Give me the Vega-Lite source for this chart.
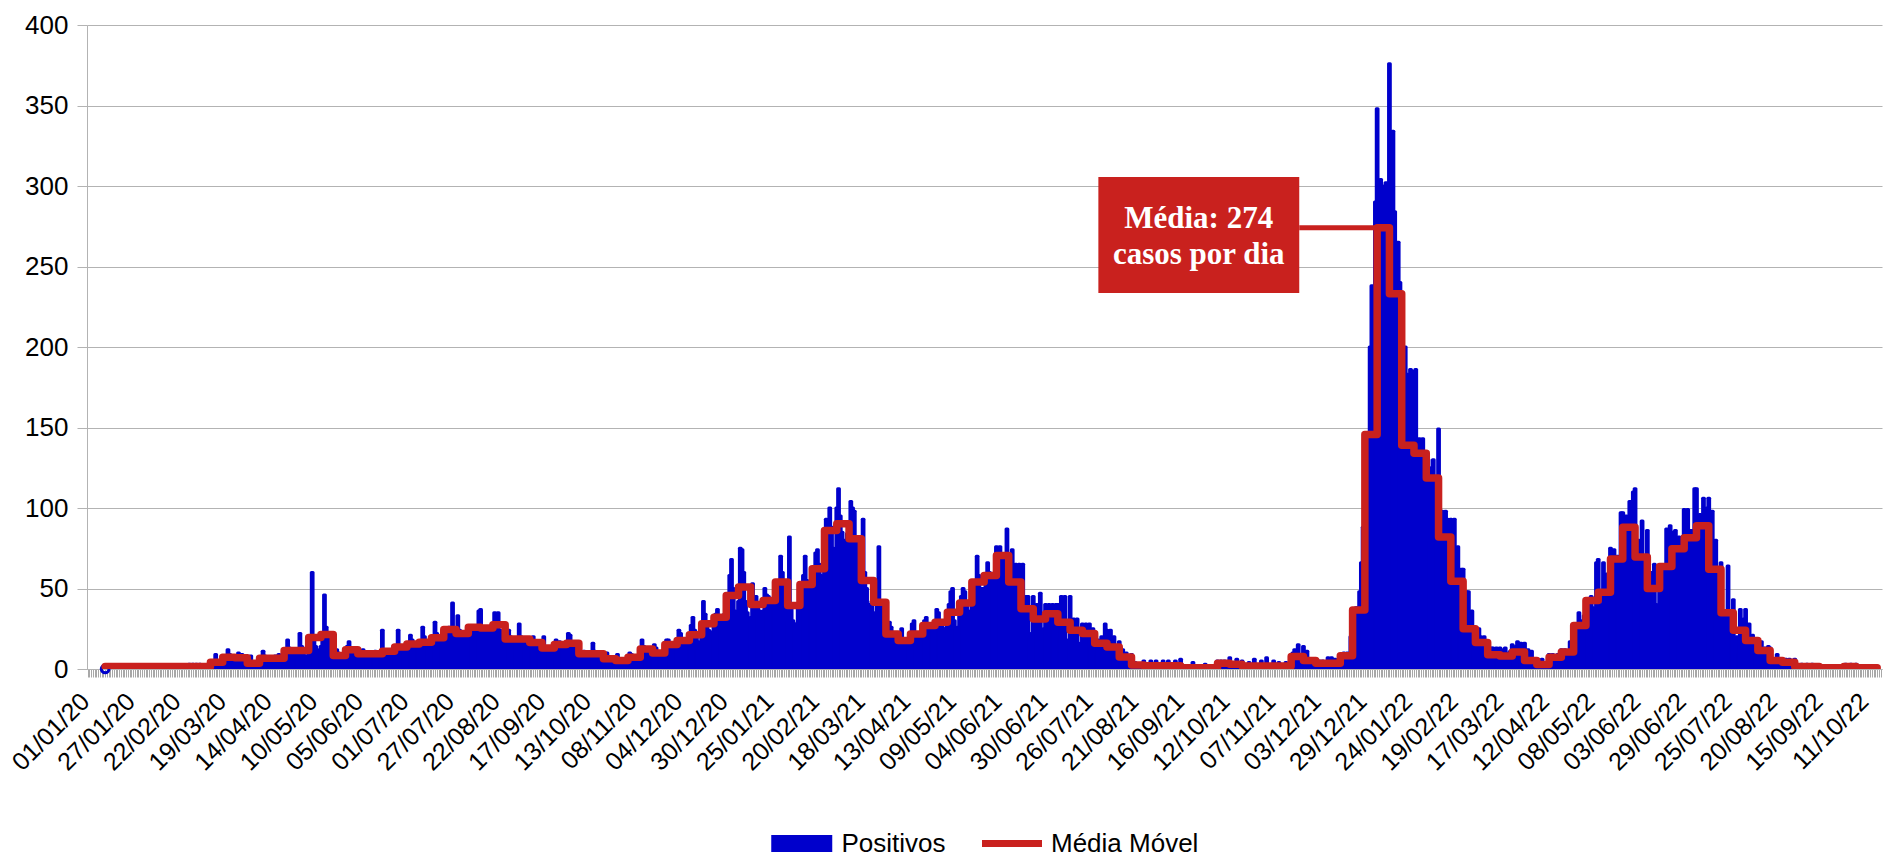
{
"$schema": "https://vega.github.io/schema/vega-lite/v6.json",
"width": 1795,
"height": 644,
"autosize": {"type": "none"},
"padding": {"left": 87, "top": 25, "right": 1, "bottom": 190},
"background": "white",
"config": {"view": {"stroke": null}, "font": "Liberation Sans"},
"datasets": {
"positivos": [
{"dia":7,"pos":0},{"dia":8,"pos":0},{"dia":9,"pos":0},{"dia":10,"pos":0},
{"dia":11,"pos":0},{"dia":12,"pos":0},{"dia":13,"pos":0},{"dia":14,"pos":0},{"dia":15,"pos":0},{"dia":16,"pos":0},{"dia":17,"pos":0},
{"dia":18,"pos":0},{"dia":19,"pos":0},{"dia":20,"pos":0},{"dia":21,"pos":0},{"dia":22,"pos":0},{"dia":23,"pos":0},{"dia":24,"pos":0},
{"dia":25,"pos":0},{"dia":26,"pos":0},{"dia":27,"pos":0},{"dia":28,"pos":0},{"dia":29,"pos":0},{"dia":30,"pos":0},{"dia":31,"pos":0},
{"dia":32,"pos":0},{"dia":33,"pos":0},{"dia":34,"pos":0},{"dia":35,"pos":0},{"dia":36,"pos":0},{"dia":37,"pos":0},{"dia":38,"pos":0},
{"dia":39,"pos":0},{"dia":40,"pos":0},{"dia":41,"pos":0},{"dia":42,"pos":0},{"dia":43,"pos":0},{"dia":44,"pos":0},{"dia":45,"pos":0},
{"dia":46,"pos":0},{"dia":47,"pos":0},{"dia":48,"pos":0},{"dia":49,"pos":0},{"dia":50,"pos":0},{"dia":51,"pos":0},{"dia":52,"pos":0},
{"dia":53,"pos":0},{"dia":54,"pos":0},{"dia":55,"pos":3},{"dia":56,"pos":2},{"dia":57,"pos":3},{"dia":58,"pos":2},{"dia":59,"pos":3},
{"dia":60,"pos":2},{"dia":61,"pos":3},{"dia":62,"pos":1},{"dia":63,"pos":2},{"dia":64,"pos":1},{"dia":65,"pos":2},{"dia":66,"pos":2},
{"dia":67,"pos":2},{"dia":68,"pos":3},{"dia":69,"pos":5},{"dia":70,"pos":9},{"dia":71,"pos":5},{"dia":72,"pos":3},{"dia":73,"pos":2},
{"dia":74,"pos":6},{"dia":75,"pos":7},{"dia":76,"pos":8},{"dia":77,"pos":12},{"dia":78,"pos":9},{"dia":79,"pos":6},{"dia":80,"pos":5},
{"dia":81,"pos":5},{"dia":82,"pos":7},{"dia":83,"pos":10},{"dia":84,"pos":8},{"dia":85,"pos":9},{"dia":86,"pos":6},{"dia":87,"pos":4},
{"dia":88,"pos":2},{"dia":89,"pos":3},{"dia":90,"pos":8},{"dia":91,"pos":4},{"dia":92,"pos":3},{"dia":93,"pos":2},{"dia":94,"pos":2},
{"dia":95,"pos":4},{"dia":96,"pos":6},{"dia":97,"pos":11},{"dia":98,"pos":8},{"dia":99,"pos":7},{"dia":100,"pos":6},{"dia":101,"pos":5},
{"dia":102,"pos":5},{"dia":103,"pos":6},{"dia":104,"pos":8},{"dia":105,"pos":7},{"dia":106,"pos":9},{"dia":107,"pos":7},{"dia":108,"pos":5},
{"dia":109,"pos":7},{"dia":110,"pos":10},{"dia":111,"pos":18},{"dia":112,"pos":13},{"dia":113,"pos":12},{"dia":114,"pos":11},{"dia":115,"pos":9},
{"dia":116,"pos":8},{"dia":117,"pos":12},{"dia":118,"pos":22},{"dia":119,"pos":14},{"dia":120,"pos":10},{"dia":121,"pos":8},{"dia":122,"pos":7},
{"dia":123,"pos":9},{"dia":124,"pos":12},{"dia":125,"pos":60},{"dia":126,"pos":20},{"dia":127,"pos":14},{"dia":128,"pos":12},{"dia":129,"pos":10},
{"dia":130,"pos":14},{"dia":131,"pos":18},{"dia":132,"pos":46},{"dia":133,"pos":26},{"dia":134,"pos":20},{"dia":135,"pos":14},{"dia":136,"pos":12},
{"dia":137,"pos":6},{"dia":138,"pos":8},{"dia":139,"pos":12},{"dia":140,"pos":10},{"dia":141,"pos":9},{"dia":142,"pos":8},{"dia":143,"pos":6},
{"dia":144,"pos":9},{"dia":145,"pos":14},{"dia":146,"pos":17},{"dia":147,"pos":12},{"dia":148,"pos":11},{"dia":149,"pos":10},{"dia":150,"pos":11},
{"dia":151,"pos":8},{"dia":152,"pos":10},{"dia":153,"pos":11},{"dia":154,"pos":12},{"dia":155,"pos":9},{"dia":156,"pos":8},{"dia":157,"pos":8},
{"dia":158,"pos":8},{"dia":159,"pos":9},{"dia":160,"pos":10},{"dia":161,"pos":11},{"dia":162,"pos":10},{"dia":163,"pos":9},{"dia":164,"pos":9},
{"dia":165,"pos":24},{"dia":166,"pos":10},{"dia":167,"pos":9},{"dia":168,"pos":8},{"dia":169,"pos":9},{"dia":170,"pos":9},{"dia":171,"pos":8},
{"dia":172,"pos":10},{"dia":173,"pos":12},{"dia":174,"pos":24},{"dia":175,"pos":14},{"dia":176,"pos":13},{"dia":177,"pos":11},{"dia":178,"pos":11},
{"dia":179,"pos":12},{"dia":180,"pos":16},{"dia":181,"pos":21},{"dia":182,"pos":18},{"dia":183,"pos":15},{"dia":184,"pos":14},{"dia":185,"pos":13},
{"dia":186,"pos":13},{"dia":187,"pos":16},{"dia":188,"pos":26},{"dia":189,"pos":20},{"dia":190,"pos":16},{"dia":191,"pos":15},{"dia":192,"pos":13},
{"dia":193,"pos":15},{"dia":194,"pos":18},{"dia":195,"pos":29},{"dia":196,"pos":22},{"dia":197,"pos":19},{"dia":198,"pos":17},{"dia":199,"pos":16},
{"dia":200,"pos":18},{"dia":201,"pos":21},{"dia":202,"pos":24},{"dia":203,"pos":26},{"dia":204,"pos":23},{"dia":205,"pos":41},{"dia":206,"pos":19},
{"dia":207,"pos":20},{"dia":208,"pos":33},{"dia":209,"pos":24},{"dia":210,"pos":22},{"dia":211,"pos":20},{"dia":212,"pos":19},{"dia":213,"pos":16},
{"dia":214,"pos":20},{"dia":215,"pos":24},{"dia":216,"pos":26},{"dia":217,"pos":27},{"dia":218,"pos":25},{"dia":219,"pos":24},{"dia":220,"pos":36},
{"dia":221,"pos":37},{"dia":222,"pos":26},{"dia":223,"pos":25},{"dia":224,"pos":24},{"dia":225,"pos":22},{"dia":226,"pos":23},{"dia":227,"pos":22},
{"dia":228,"pos":26},{"dia":229,"pos":35},{"dia":230,"pos":34},{"dia":231,"pos":35},{"dia":232,"pos":24},{"dia":233,"pos":16},{"dia":234,"pos":22},
{"dia":235,"pos":17},{"dia":236,"pos":18},{"dia":237,"pos":24},{"dia":238,"pos":20},{"dia":239,"pos":18},{"dia":240,"pos":17},{"dia":241,"pos":16},
{"dia":242,"pos":16},{"dia":243,"pos":28},{"dia":244,"pos":20},{"dia":245,"pos":18},{"dia":246,"pos":17},{"dia":247,"pos":17},{"dia":248,"pos":14},
{"dia":249,"pos":14},{"dia":250,"pos":18},{"dia":251,"pos":20},{"dia":252,"pos":17},{"dia":253,"pos":16},{"dia":254,"pos":15},{"dia":255,"pos":15},
{"dia":256,"pos":13},{"dia":257,"pos":20},{"dia":258,"pos":14},{"dia":259,"pos":12},{"dia":260,"pos":11},{"dia":261,"pos":10},{"dia":262,"pos":11},
{"dia":263,"pos":14},{"dia":264,"pos":18},{"dia":265,"pos":16},{"dia":266,"pos":17},{"dia":267,"pos":15},{"dia":268,"pos":13},{"dia":269,"pos":13},
{"dia":270,"pos":14},{"dia":271,"pos":22},{"dia":272,"pos":21},{"dia":273,"pos":16},{"dia":274,"pos":14},{"dia":275,"pos":13},{"dia":276,"pos":12},
{"dia":277,"pos":10},{"dia":278,"pos":9},{"dia":279,"pos":10},{"dia":280,"pos":11},{"dia":281,"pos":9},{"dia":282,"pos":8},{"dia":283,"pos":9},
{"dia":284,"pos":8},{"dia":285,"pos":16},{"dia":286,"pos":11},{"dia":287,"pos":9},{"dia":288,"pos":8},{"dia":289,"pos":7},{"dia":290,"pos":7},
{"dia":291,"pos":5},{"dia":292,"pos":7},{"dia":293,"pos":10},{"dia":294,"pos":6},{"dia":295,"pos":5},{"dia":296,"pos":6},{"dia":297,"pos":5},
{"dia":298,"pos":4},{"dia":299,"pos":9},{"dia":300,"pos":6},{"dia":301,"pos":5},{"dia":302,"pos":4},{"dia":303,"pos":5},{"dia":304,"pos":4},
{"dia":305,"pos":6},{"dia":306,"pos":10},{"dia":307,"pos":9},{"dia":308,"pos":7},{"dia":309,"pos":6},{"dia":310,"pos":7},{"dia":311,"pos":6},
{"dia":312,"pos":10},{"dia":313,"pos":18},{"dia":314,"pos":14},{"dia":315,"pos":12},{"dia":316,"pos":11},{"dia":317,"pos":12},{"dia":318,"pos":10},
{"dia":319,"pos":8},{"dia":320,"pos":15},{"dia":321,"pos":13},{"dia":322,"pos":10},{"dia":323,"pos":8},{"dia":324,"pos":8},{"dia":325,"pos":7},
{"dia":326,"pos":13},{"dia":327,"pos":18},{"dia":328,"pos":18},{"dia":329,"pos":16},{"dia":330,"pos":15},{"dia":331,"pos":14},{"dia":332,"pos":13},
{"dia":333,"pos":14},{"dia":334,"pos":24},{"dia":335,"pos":22},{"dia":336,"pos":18},{"dia":337,"pos":16},{"dia":338,"pos":16},{"dia":339,"pos":14},
{"dia":340,"pos":17},{"dia":341,"pos":27},{"dia":342,"pos":32},{"dia":343,"pos":24},{"dia":344,"pos":19},{"dia":345,"pos":17},{"dia":346,"pos":13},
{"dia":347,"pos":24},{"dia":348,"pos":42},{"dia":349,"pos":34},{"dia":350,"pos":28},{"dia":351,"pos":24},{"dia":352,"pos":22},{"dia":353,"pos":23},
{"dia":354,"pos":28},{"dia":355,"pos":34},{"dia":356,"pos":37},{"dia":357,"pos":32},{"dia":358,"pos":30},{"dia":359,"pos":30},{"dia":360,"pos":34},
{"dia":361,"pos":35},{"dia":362,"pos":40},{"dia":363,"pos":58},{"dia":364,"pos":68},{"dia":365,"pos":50},{"dia":366,"pos":36},{"dia":367,"pos":33},
{"dia":368,"pos":42},{"dia":369,"pos":75},{"dia":370,"pos":74},{"dia":371,"pos":60},{"dia":372,"pos":42},{"dia":373,"pos":35},{"dia":374,"pos":28},
{"dia":375,"pos":32},{"dia":376,"pos":53},{"dia":377,"pos":44},{"dia":378,"pos":45},{"dia":379,"pos":40},{"dia":380,"pos":36},{"dia":381,"pos":31},
{"dia":382,"pos":36},{"dia":383,"pos":50},{"dia":384,"pos":46},{"dia":385,"pos":45},{"dia":386,"pos":42},{"dia":387,"pos":40},{"dia":388,"pos":39},
{"dia":389,"pos":40},{"dia":390,"pos":48},{"dia":391,"pos":55},{"dia":392,"pos":70},{"dia":393,"pos":60},{"dia":394,"pos":50},{"dia":395,"pos":55},
{"dia":396,"pos":30},{"dia":397,"pos":82},{"dia":398,"pos":40},{"dia":399,"pos":30},{"dia":400,"pos":28},{"dia":401,"pos":28},{"dia":402,"pos":38},
{"dia":403,"pos":40},{"dia":404,"pos":50},{"dia":405,"pos":58},{"dia":406,"pos":70},{"dia":407,"pos":55},{"dia":408,"pos":50},{"dia":409,"pos":45},
{"dia":410,"pos":52},{"dia":411,"pos":60},{"dia":412,"pos":72},{"dia":413,"pos":74},{"dia":414,"pos":65},{"dia":415,"pos":58},{"dia":416,"pos":54},
{"dia":417,"pos":80},{"dia":418,"pos":93},{"dia":419,"pos":92},{"dia":420,"pos":100},{"dia":421,"pos":88},{"dia":422,"pos":75},{"dia":423,"pos":74},
{"dia":424,"pos":100},{"dia":425,"pos":112},{"dia":426,"pos":95},{"dia":427,"pos":85},{"dia":428,"pos":80},{"dia":429,"pos":75},{"dia":430,"pos":84},
{"dia":431,"pos":75},{"dia":432,"pos":104},{"dia":433,"pos":100},{"dia":434,"pos":98},{"dia":435,"pos":80},{"dia":436,"pos":55},{"dia":437,"pos":54},
{"dia":438,"pos":60},{"dia":439,"pos":93},{"dia":440,"pos":60},{"dia":441,"pos":50},{"dia":442,"pos":40},{"dia":443,"pos":40},{"dia":444,"pos":42},
{"dia":445,"pos":30},{"dia":446,"pos":35},{"dia":447,"pos":40},{"dia":448,"pos":76},{"dia":449,"pos":40},{"dia":450,"pos":35},{"dia":451,"pos":35},
{"dia":452,"pos":18},{"dia":453,"pos":25},{"dia":454,"pos":29},{"dia":455,"pos":26},{"dia":456,"pos":20},{"dia":457,"pos":18},{"dia":458,"pos":17},
{"dia":459,"pos":15},{"dia":460,"pos":20},{"dia":461,"pos":25},{"dia":462,"pos":18},{"dia":463,"pos":15},{"dia":464,"pos":16},{"dia":465,"pos":15},
{"dia":466,"pos":16},{"dia":467,"pos":28},{"dia":468,"pos":30},{"dia":469,"pos":22},{"dia":470,"pos":20},{"dia":471,"pos":18},{"dia":472,"pos":19},
{"dia":473,"pos":22},{"dia":474,"pos":30},{"dia":475,"pos":32},{"dia":476,"pos":28},{"dia":477,"pos":27},{"dia":478,"pos":25},{"dia":479,"pos":25},
{"dia":480,"pos":24},{"dia":481,"pos":37},{"dia":482,"pos":35},{"dia":483,"pos":30},{"dia":484,"pos":27},{"dia":485,"pos":25},{"dia":486,"pos":25},
{"dia":487,"pos":28},{"dia":488,"pos":40},{"dia":489,"pos":48},{"dia":490,"pos":50},{"dia":491,"pos":30},{"dia":492,"pos":25},{"dia":493,"pos":26},
{"dia":494,"pos":34},{"dia":495,"pos":45},{"dia":496,"pos":50},{"dia":497,"pos":48},{"dia":498,"pos":40},{"dia":499,"pos":36},{"dia":500,"pos":34},
{"dia":501,"pos":45},{"dia":502,"pos":50},{"dia":503,"pos":55},{"dia":504,"pos":70},{"dia":505,"pos":58},{"dia":506,"pos":50},{"dia":507,"pos":50},
{"dia":508,"pos":50},{"dia":509,"pos":58},{"dia":510,"pos":66},{"dia":511,"pos":60},{"dia":512,"pos":58},{"dia":513,"pos":55},{"dia":514,"pos":59},
{"dia":515,"pos":76},{"dia":516,"pos":60},{"dia":517,"pos":76},{"dia":518,"pos":62},{"dia":519,"pos":68},{"dia":520,"pos":70},{"dia":521,"pos":87},
{"dia":522,"pos":70},{"dia":523,"pos":40},{"dia":524,"pos":74},{"dia":525,"pos":35},{"dia":526,"pos":65},{"dia":527,"pos":30},{"dia":528,"pos":65},
{"dia":529,"pos":40},{"dia":530,"pos":65},{"dia":531,"pos":25},{"dia":532,"pos":45},{"dia":533,"pos":45},{"dia":534,"pos":20},{"dia":535,"pos":22},
{"dia":536,"pos":45},{"dia":537,"pos":20},{"dia":538,"pos":40},{"dia":539,"pos":20},{"dia":540,"pos":47},{"dia":541,"pos":20},{"dia":542,"pos":25},
{"dia":543,"pos":40},{"dia":544,"pos":25},{"dia":545,"pos":40},{"dia":546,"pos":30},{"dia":547,"pos":40},{"dia":548,"pos":25},{"dia":549,"pos":40},
{"dia":550,"pos":40},{"dia":551,"pos":20},{"dia":552,"pos":45},{"dia":553,"pos":20},{"dia":554,"pos":45},{"dia":555,"pos":18},{"dia":556,"pos":15},
{"dia":557,"pos":45},{"dia":558,"pos":15},{"dia":559,"pos":31},{"dia":560,"pos":15},{"dia":561,"pos":31},{"dia":562,"pos":15},{"dia":563,"pos":16},
{"dia":564,"pos":28},{"dia":565,"pos":16},{"dia":566,"pos":28},{"dia":567,"pos":15},{"dia":568,"pos":28},{"dia":569,"pos":14},{"dia":570,"pos":25},
{"dia":571,"pos":20},{"dia":572,"pos":10},{"dia":573,"pos":18},{"dia":574,"pos":8},{"dia":575,"pos":20},{"dia":576,"pos":8},{"dia":577,"pos":28},
{"dia":578,"pos":24},{"dia":579,"pos":8},{"dia":580,"pos":24},{"dia":581,"pos":8},{"dia":582,"pos":20},{"dia":583,"pos":5},{"dia":584,"pos":6},
{"dia":585,"pos":17},{"dia":586,"pos":5},{"dia":587,"pos":12},{"dia":588,"pos":3},{"dia":589,"pos":10},{"dia":590,"pos":2},{"dia":591,"pos":3},
{"dia":592,"pos":9},{"dia":593,"pos":1},{"dia":594,"pos":4},{"dia":595,"pos":0},{"dia":596,"pos":3},{"dia":597,"pos":0},{"dia":598,"pos":1},
{"dia":599,"pos":5},{"dia":600,"pos":0},{"dia":601,"pos":3},{"dia":602,"pos":0},{"dia":603,"pos":5},{"dia":604,"pos":0},{"dia":605,"pos":1},
{"dia":606,"pos":5},{"dia":607,"pos":0},{"dia":608,"pos":2},{"dia":609,"pos":1},{"dia":610,"pos":5},{"dia":611,"pos":0},{"dia":612,"pos":1},
{"dia":613,"pos":5},{"dia":614,"pos":0},{"dia":615,"pos":3},{"dia":616,"pos":0},{"dia":617,"pos":5},{"dia":618,"pos":0},{"dia":619,"pos":1},
{"dia":620,"pos":6},{"dia":621,"pos":0},{"dia":622,"pos":1},{"dia":623,"pos":0},{"dia":624,"pos":0},{"dia":625,"pos":0},{"dia":626,"pos":0},
{"dia":627,"pos":4},{"dia":628,"pos":0},{"dia":629,"pos":0},{"dia":630,"pos":1},{"dia":631,"pos":0},{"dia":632,"pos":0},{"dia":633,"pos":1},
{"dia":634,"pos":3},{"dia":635,"pos":0},{"dia":636,"pos":1},{"dia":637,"pos":0},{"dia":638,"pos":1},{"dia":639,"pos":0},{"dia":640,"pos":1},
{"dia":641,"pos":5},{"dia":642,"pos":2},{"dia":643,"pos":5},{"dia":644,"pos":3},{"dia":645,"pos":5},{"dia":646,"pos":2},{"dia":647,"pos":3},
{"dia":648,"pos":7},{"dia":649,"pos":1},{"dia":650,"pos":3},{"dia":651,"pos":1},{"dia":652,"pos":6},{"dia":653,"pos":2},{"dia":654,"pos":1},
{"dia":655,"pos":5},{"dia":656,"pos":0},{"dia":657,"pos":2},{"dia":658,"pos":1},{"dia":659,"pos":4},{"dia":660,"pos":0},{"dia":661,"pos":1},
{"dia":662,"pos":6},{"dia":663,"pos":1},{"dia":664,"pos":1},{"dia":665,"pos":0},{"dia":666,"pos":5},{"dia":667,"pos":0},{"dia":668,"pos":1},
{"dia":669,"pos":7},{"dia":670,"pos":0},{"dia":671,"pos":1},{"dia":672,"pos":0},{"dia":673,"pos":5},{"dia":674,"pos":0},{"dia":675,"pos":0},
{"dia":676,"pos":4},{"dia":677,"pos":0},{"dia":678,"pos":2},{"dia":679,"pos":0},{"dia":680,"pos":4},{"dia":681,"pos":1},{"dia":682,"pos":1},
{"dia":683,"pos":4},{"dia":684,"pos":10},{"dia":685,"pos":12},{"dia":686,"pos":6},{"dia":687,"pos":15},{"dia":688,"pos":8},{"dia":689,"pos":0},
{"dia":690,"pos":14},{"dia":691,"pos":3},{"dia":692,"pos":11},{"dia":693,"pos":2},{"dia":694,"pos":4},{"dia":695,"pos":1},{"dia":696,"pos":2},
{"dia":697,"pos":6},{"dia":698,"pos":2},{"dia":699,"pos":5},{"dia":700,"pos":2},{"dia":701,"pos":5},{"dia":702,"pos":3},{"dia":703,"pos":2},
{"dia":704,"pos":7},{"dia":705,"pos":1},{"dia":706,"pos":7},{"dia":707,"pos":2},{"dia":708,"pos":6},{"dia":709,"pos":1},{"dia":710,"pos":1},
{"dia":711,"pos":9},{"dia":712,"pos":4},{"dia":713,"pos":10},{"dia":714,"pos":3},{"dia":715,"pos":10},{"dia":716,"pos":2},{"dia":717,"pos":20},
{"dia":718,"pos":20},{"dia":719,"pos":24},{"dia":720,"pos":38},{"dia":721,"pos":38},{"dia":722,"pos":48},{"dia":723,"pos":66},{"dia":724,"pos":88},
{"dia":725,"pos":95},{"dia":726,"pos":120},{"dia":727,"pos":130},{"dia":728,"pos":200},{"dia":729,"pos":238},{"dia":730,"pos":180},{"dia":731,"pos":290},
{"dia":732,"pos":348},{"dia":733,"pos":250},{"dia":734,"pos":304},{"dia":735,"pos":300},{"dia":736,"pos":240},{"dia":737,"pos":302},{"dia":738,"pos":200},
{"dia":739,"pos":376},{"dia":740,"pos":280},{"dia":741,"pos":334},{"dia":742,"pos":284},{"dia":743,"pos":200},{"dia":744,"pos":265},{"dia":745,"pos":240},
{"dia":746,"pos":230},{"dia":747,"pos":150},{"dia":748,"pos":200},{"dia":749,"pos":183},{"dia":750,"pos":120},{"dia":751,"pos":186},{"dia":752,"pos":185},
{"dia":753,"pos":175},{"dia":754,"pos":186},{"dia":755,"pos":100},{"dia":756,"pos":143},{"dia":757,"pos":100},{"dia":758,"pos":143},{"dia":759,"pos":120},
{"dia":760,"pos":128},{"dia":761,"pos":130},{"dia":762,"pos":80},{"dia":763,"pos":125},{"dia":764,"pos":130},{"dia":765,"pos":100},{"dia":766,"pos":110},
{"dia":767,"pos":149},{"dia":768,"pos":90},{"dia":769,"pos":98},{"dia":770,"pos":60},{"dia":771,"pos":98},{"dia":772,"pos":93},{"dia":773,"pos":50},
{"dia":774,"pos":93},{"dia":775,"pos":40},{"dia":776,"pos":93},{"dia":777,"pos":40},{"dia":778,"pos":76},{"dia":779,"pos":40},{"dia":780,"pos":62},
{"dia":781,"pos":62},{"dia":782,"pos":30},{"dia":783,"pos":48},{"dia":784,"pos":48},{"dia":785,"pos":20},{"dia":786,"pos":36},{"dia":787,"pos":25},
{"dia":788,"pos":25},{"dia":789,"pos":15},{"dia":790,"pos":25},{"dia":791,"pos":20},{"dia":792,"pos":12},{"dia":793,"pos":20},{"dia":794,"pos":15},
{"dia":795,"pos":13},{"dia":796,"pos":8},{"dia":797,"pos":13},{"dia":798,"pos":13},{"dia":799,"pos":6},{"dia":800,"pos":13},{"dia":801,"pos":10},
{"dia":802,"pos":13},{"dia":803,"pos":7},{"dia":804,"pos":12},{"dia":805,"pos":13},{"dia":806,"pos":5},{"dia":807,"pos":10},{"dia":808,"pos":11},
{"dia":809,"pos":15},{"dia":810,"pos":6},{"dia":811,"pos":14},{"dia":812,"pos":17},{"dia":813,"pos":5},{"dia":814,"pos":16},{"dia":815,"pos":8},
{"dia":816,"pos":16},{"dia":817,"pos":3},{"dia":818,"pos":12},{"dia":819,"pos":4},{"dia":820,"pos":11},{"dia":821,"pos":2},{"dia":822,"pos":3},
{"dia":823,"pos":6},{"dia":824,"pos":1},{"dia":825,"pos":2},{"dia":826,"pos":6},{"dia":827,"pos":1},{"dia":828,"pos":2},{"dia":829,"pos":2},
{"dia":830,"pos":9},{"dia":831,"pos":5},{"dia":832,"pos":9},{"dia":833,"pos":8},{"dia":834,"pos":6},{"dia":835,"pos":9},{"dia":836,"pos":5},
{"dia":837,"pos":12},{"dia":838,"pos":8},{"dia":839,"pos":12},{"dia":840,"pos":10},{"dia":841,"pos":8},{"dia":842,"pos":17},{"dia":843,"pos":6},
{"dia":844,"pos":25},{"dia":845,"pos":18},{"dia":846,"pos":28},{"dia":847,"pos":35},{"dia":848,"pos":30},{"dia":849,"pos":20},{"dia":850,"pos":33},
{"dia":851,"pos":40},{"dia":852,"pos":35},{"dia":853,"pos":40},{"dia":854,"pos":45},{"dia":855,"pos":38},{"dia":856,"pos":34},{"dia":857,"pos":66},
{"dia":858,"pos":68},{"dia":859,"pos":40},{"dia":860,"pos":35},{"dia":861,"pos":66},{"dia":862,"pos":30},{"dia":863,"pos":59},{"dia":864,"pos":36},
{"dia":865,"pos":75},{"dia":866,"pos":60},{"dia":867,"pos":74},{"dia":868,"pos":55},{"dia":869,"pos":70},{"dia":870,"pos":48},{"dia":871,"pos":97},
{"dia":872,"pos":97},{"dia":873,"pos":80},{"dia":874,"pos":95},{"dia":875,"pos":70},{"dia":876,"pos":104},{"dia":877,"pos":60},{"dia":878,"pos":110},
{"dia":879,"pos":112},{"dia":880,"pos":45},{"dia":881,"pos":80},{"dia":882,"pos":40},{"dia":883,"pos":92},{"dia":884,"pos":60},{"dia":885,"pos":58},
{"dia":886,"pos":86},{"dia":887,"pos":30},{"dia":888,"pos":60},{"dia":889,"pos":35},{"dia":890,"pos":65},{"dia":891,"pos":40},{"dia":892,"pos":34},
{"dia":893,"pos":63},{"dia":894,"pos":45},{"dia":895,"pos":62},{"dia":896,"pos":50},{"dia":897,"pos":87},{"dia":898,"pos":50},{"dia":899,"pos":89},
{"dia":900,"pos":85},{"dia":901,"pos":60},{"dia":902,"pos":86},{"dia":903,"pos":65},{"dia":904,"pos":82},{"dia":905,"pos":63},{"dia":906,"pos":82},
{"dia":907,"pos":99},{"dia":908,"pos":75},{"dia":909,"pos":99},{"dia":910,"pos":60},{"dia":911,"pos":86},{"dia":912,"pos":50},{"dia":913,"pos":112},
{"dia":914,"pos":112},{"dia":915,"pos":80},{"dia":916,"pos":96},{"dia":917,"pos":60},{"dia":918,"pos":106},{"dia":919,"pos":70},{"dia":920,"pos":100},
{"dia":921,"pos":106},{"dia":922,"pos":45},{"dia":923,"pos":98},{"dia":924,"pos":40},{"dia":925,"pos":80},{"dia":926,"pos":35},{"dia":927,"pos":30},
{"dia":928,"pos":66},{"dia":929,"pos":18},{"dia":930,"pos":35},{"dia":931,"pos":15},{"dia":932,"pos":64},{"dia":933,"pos":12},{"dia":934,"pos":35},
{"dia":935,"pos":43},{"dia":936,"pos":12},{"dia":937,"pos":20},{"dia":938,"pos":10},{"dia":939,"pos":37},{"dia":940,"pos":15},{"dia":941,"pos":31},
{"dia":942,"pos":37},{"dia":943,"pos":10},{"dia":944,"pos":28},{"dia":945,"pos":10},{"dia":946,"pos":21},{"dia":947,"pos":8},{"dia":948,"pos":10},
{"dia":949,"pos":17},{"dia":950,"pos":8},{"dia":951,"pos":17},{"dia":952,"pos":6},{"dia":953,"pos":13},{"dia":954,"pos":6},{"dia":955,"pos":14},
{"dia":956,"pos":13},{"dia":957,"pos":2},{"dia":958,"pos":4},{"dia":959,"pos":2},{"dia":960,"pos":9},{"dia":961,"pos":3},{"dia":962,"pos":4},
{"dia":963,"pos":6},{"dia":964,"pos":3},{"dia":965,"pos":6},{"dia":966,"pos":2},{"dia":967,"pos":6},{"dia":968,"pos":3},{"dia":969,"pos":3},
{"dia":970,"pos":6},{"dia":971,"pos":1},{"dia":972,"pos":1},{"dia":973,"pos":1},{"dia":974,"pos":3},{"dia":975,"pos":0},{"dia":976,"pos":0},
{"dia":977,"pos":3},{"dia":978,"pos":1},{"dia":979,"pos":1},{"dia":980,"pos":3},{"dia":981,"pos":0},{"dia":982,"pos":1},{"dia":983,"pos":2},
{"dia":984,"pos":2},{"dia":985,"pos":0},{"dia":986,"pos":1},{"dia":987,"pos":0},{"dia":988,"pos":2},{"dia":989,"pos":0},{"dia":990,"pos":1},
{"dia":991,"pos":2},{"dia":992,"pos":0},{"dia":993,"pos":1},{"dia":994,"pos":1},{"dia":995,"pos":0},{"dia":996,"pos":1},{"dia":997,"pos":1},
{"dia":998,"pos":1},{"dia":999,"pos":3},{"dia":1000,"pos":2},{"dia":1001,"pos":1},{"dia":1002,"pos":3},{"dia":1003,"pos":0},{"dia":1004,"pos":1},
{"dia":1005,"pos":3},{"dia":1006,"pos":1},{"dia":1007,"pos":0},{"dia":1008,"pos":1},{"dia":1009,"pos":2},{"dia":1010,"pos":0},{"dia":1011,"pos":1},
{"dia":1012,"pos":2},{"dia":1013,"pos":0},{"dia":1014,"pos":1},{"dia":1015,"pos":2},{"dia":1016,"pos":1}
],
"media": [
{"dia":7,"media":1.5},{"dia":11,"media":1.5},{"dia":18,"media":1.5},{"dia":25,"media":1.5},{"dia":32,"media":1.5},{"dia":39,"media":1.5},{"dia":46,"media":1.5},{"dia":53,"media":1.5},{"dia":60,"media":1.5},
{"dia":67,"media":4.2},{"dia":74,"media":7.3},{"dia":81,"media":7},{"dia":88,"media":3.5},{"dia":95,"media":6.7},{"dia":102,"media":6.7},{"dia":109,"media":11.5},{"dia":116,"media":11.5},
{"dia":123,"media":19.5},{"dia":130,"media":21.5},{"dia":137,"media":8.4},{"dia":144,"media":12},{"dia":151,"media":9.4},{"dia":158,"media":9.4},{"dia":165,"media":11},{"dia":172,"media":13.6},
{"dia":179,"media":15.6},{"dia":186,"media":16.6},{"dia":193,"media":19.4},{"dia":200,"media":24.5},{"dia":207,"media":22},{"dia":214,"media":26},{"dia":221,"media":25.5},{"dia":228,"media":27.5},
{"dia":235,"media":18.6},{"dia":242,"media":18.6},{"dia":249,"media":16.5},{"dia":256,"media":13},{"dia":263,"media":15.2},{"dia":270,"media":16},{"dia":277,"media":9.4},{"dia":284,"media":9.4},
{"dia":291,"media":6.3},{"dia":298,"media":5.3},{"dia":305,"media":7.3},{"dia":312,"media":12.5},{"dia":319,"media":9.9},{"dia":326,"media":15.2},{"dia":333,"media":17.7},{"dia":340,"media":21.2},
{"dia":347,"media":28.1},{"dia":354,"media":32.2},{"dia":361,"media":45.7},{"dia":368,"media":50.9},{"dia":375,"media":40.1},{"dia":382,"media":42.6},{"dia":389,"media":54},{"dia":396,"media":39.5},
{"dia":403,"media":52.5},{"dia":410,"media":62.2},{"dia":417,"media":86},{"dia":424,"media":90.2},{"dia":431,"media":80.9},{"dia":438,"media":55},{"dia":445,"media":41.5},{"dia":452,"media":21.8},
{"dia":459,"media":17.7},{"dia":466,"media":21.8},{"dia":473,"media":27},{"dia":480,"media":29},{"dia":487,"media":35.3},{"dia":494,"media":41},{"dia":501,"media":54},{"dia":508,"media":58},
{"dia":515,"media":70.5},{"dia":522,"media":54},{"dia":529,"media":37.4},{"dia":536,"media":31},{"dia":543,"media":34.3},{"dia":550,"media":29},{"dia":557,"media":24},{"dia":564,"media":22},
{"dia":571,"media":16},{"dia":578,"media":13.6},{"dia":585,"media":7.5},{"dia":592,"media":2.5},{"dia":599,"media":2},{"dia":606,"media":2},{"dia":613,"media":2},{"dia":620,"media":0.8},
{"dia":627,"media":0.8},{"dia":634,"media":0.8},{"dia":641,"media":3.6},{"dia":648,"media":3},{"dia":655,"media":1.8},{"dia":662,"media":1.8},{"dia":669,"media":1.8},{"dia":676,"media":1.8},
{"dia":683,"media":7.8},{"dia":690,"media":5.3},{"dia":697,"media":3.6},{"dia":704,"media":3.6},{"dia":711,"media":8.3},{"dia":718,"media":36.7},{"dia":725,"media":145.7},{"dia":732,"media":274},
{"dia":739,"media":233},{"dia":746,"media":139},{"dia":753,"media":134},{"dia":760,"media":118.6},{"dia":767,"media":82},{"dia":774,"media":54.5},{"dia":781,"media":25},{"dia":788,"media":16.5},
{"dia":795,"media":8.8},{"dia":802,"media":8},{"dia":809,"media":10.5},{"dia":816,"media":5.3},{"dia":823,"media":2.8},{"dia":830,"media":7.3},{"dia":837,"media":10.5},{"dia":844,"media":27},
{"dia":851,"media":42.6},{"dia":858,"media":47.7},{"dia":865,"media":68.4},{"dia":872,"media":88},{"dia":879,"media":69.5},{"dia":886,"media":50},{"dia":893,"media":63.7},{"dia":900,"media":74.7},
{"dia":907,"media":81.5},{"dia":914,"media":89},{"dia":921,"media":62},{"dia":928,"media":35},{"dia":935,"media":24},{"dia":942,"media":17.7},{"dia":949,"media":11.5},{"dia":956,"media":5.3},
{"dia":963,"media":4.2},{"dia":970,"media":1.5},{"dia":977,"media":1.5},{"dia":984,"media":0.8},{"dia":991,"media":0.8},{"dia":998,"media":1.5},{"dia":1005,"media":0.8},{"dia":1012,"media":0.8},
{"dia":1017,"media":0.8}
]
},
"layer": [
{
"data": {"name": "positivos"},
"mark": {"type": "bar", "width": 1.76, "stroke": "#0000CC", "strokeWidth": 3, "strokeJoin": "round", "clip": true},
"encoding": {
"x": {"field": "dia", "type": "quantitative", "title": null,
"scale": {"domain": [-0.5, 1016.9], "nice": false, "zero": false},
"axis": {"tickCount": 1017, "grid": false, "domainColor": "#b3b3b3", "tickColor": "#a8a8a8", "tickSize": 8, "tickWidth": 1,
"labelAngle": -45, "labelAlign": "right", "labelBaseline": "middle", "labelFont": "Liberation Sans", "labelFontSize": 25, "labelColor": "#000000",
"labelPadding": 20, "labelOffset": -8, "labelOverlap": false, "labelBound": false, "labelFlush": false,
"labelExpr": "datum.value % 26 === 0 ? timeFormat(datetime(2020, 0, 1 + datum.value), '%d/%m/%y') : ''"}},
"y": {"field": "pos", "type": "quantitative", "title": null,
"scale": {"domain": [0, 400], "nice": false},
"axis": {"values": [0, 50, 100, 150, 200, 250, 300, 350, 400], "grid": true, "gridColor": "#b3b3b3", "gridWidth": 1, "domainColor": "#b3b3b3",
"tickColor": "#b3b3b3", "tickSize": 10, "labelFont": "Liberation Sans", "labelFontSize": 26, "labelColor": "#000000", "labelPadding": 9}},
"fill": {"datum": "Positivos", "type": "nominal",
"scale": {"domain": ["Positivos"], "range": ["#0000CC"]},
"legend": {"orient": "none", "legendX": 699.25, "legendY": 803, "direction": "horizontal", "title": null,
"labelFont": "Liberation Sans", "labelFontSize": 26, "labelColor": "#000000", "labelOffset": 24.25,
"symbolType": "M-2,-0.557H2V0.557H-2Z", "symbolSize": 930.25, "symbolStrokeWidth": 0, "symbolFillColor": "#0000CC", "padding": 0}}
}
},
{
"data": {"name": "positivos"},
"transform": [{"filter": "datum.dia == 7"}],
"mark": {"type": "point", "shape": "circle", "filled": false, "size": 60, "stroke": "#0000CC", "strokeWidth": 3, "opacity": 1},
"encoding": {
"x": {"field": "dia", "type": "quantitative", "title": null},
"y": {"field": "pos", "type": "quantitative", "title": null}
}
},
{
"data": {"name": "media"},
"mark": {"type": "line", "interpolate": "step-after", "strokeWidth": 7.5, "strokeJoin": "round", "strokeCap": "round", "clip": true},
"encoding": {
"x": {"field": "dia", "type": "quantitative", "title": null},
"y": {"field": "media", "type": "quantitative", "title": null},
"stroke": {"datum": "Média Móvel", "type": "nominal",
"scale": {"domain": ["Média Móvel"], "range": ["#C9211E"]},
"legend": {"orient": "none", "legendX": 906.5, "legendY": 800, "direction": "horizontal", "title": null,
"labelFont": "Liberation Sans", "labelFontSize": 26, "labelColor": "#000000", "labelOffset": 20.5,
"symbolType": "M-2,0H2", "symbolSize": 900, "symbolStrokeWidth": 7, "symbolStrokeColor": "#C9211E", "padding": 0}}
}
},
{
"data": {"values": [{}]},
"mark": {"type": "rule", "color": "#C9211E", "strokeWidth": 5},
"encoding": {
"x": {"datum": 687.6, "type": "quantitative", "title": null},
"x2": {"datum": 732},
"y": {"datum": 274, "type": "quantitative", "title": null}
}
},
{
"data": {"values": [{}]},
"mark": {"type": "rect", "color": "#C9211E"},
"encoding": {
"x": {"datum": 573.1, "type": "quantitative", "title": null},
"x2": {"datum": 687.6},
"y": {"datum": 305.6, "type": "quantitative", "title": null},
"y2": {"datum": 233.5}
}
},
{
"data": {"values": [{}]},
"mark": {"type": "text", "font": "Liberation Serif", "fontWeight": "bold", "fontSize": 31, "color": "#FFFFFF", "lineBreak": "\n", "lineHeight": 36, "align": "center", "baseline": "middle"},
"encoding": {
"x": {"datum": 630.3, "type": "quantitative", "title": null},
"y": {"datum": 279.5, "type": "quantitative", "title": null},
"text": {"value": "Média: 274\ncasos por dia"}
}
}
]
}
